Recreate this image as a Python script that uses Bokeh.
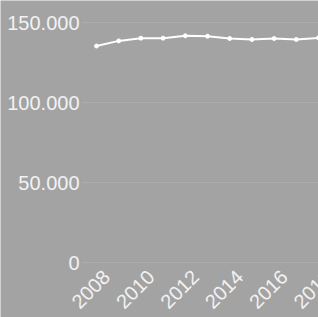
import math
from bokeh.plotting import figure
from bokeh.models import Range1d, ColumnDataSource
from bokeh.core.properties import value
from bokeh.embed import file_html
from bokeh.resources import INLINE

years = [2008, 2009, 2010, 2011, 2012, 2013, 2014, 2015, 2016, 2017, 2018]
values = [135300, 138500, 140200, 140200, 141700, 141400, 140000, 139400, 140000, 139400, 140400]
y_ticks = [0, 50000, 100000, 150000]
y_tick_labels = ["0", "50.000", "100.000", "150.000"]
x_ticks = [2008, 2010, 2012, 2014, 2016, 2018]
x_tick_labels = ["2008", "2010", "2012", "2014", "2016", "2018"]

BG = "#a3a3a3"
TXT = "#f2f2f2"
GRID = "#adadad"
FONT = "Liberation Sans"

# page geometry (pixels)
W, H = 318, 317
Y_TOP_PX, Y_ZERO_PX = 22, 262      # where 150000 and 0 sit
X_FIRST_PX, X_LAST_PX = 96, 318    # where 2008 and 2018 sit
GRID_LEFT_PX = 82

Y_MAX = y_ticks[-1]
ppv = (Y_ZERO_PX - Y_TOP_PX) / Y_MAX
y_end = Y_MAX + Y_TOP_PX / ppv
y_start = -(H - Y_ZERO_PX) / ppv
ppy = (X_LAST_PX - X_FIRST_PX) / (years[-1] - years[0])
x_start = years[0] - X_FIRST_PX / ppy
x_end = years[0] + (W - X_FIRST_PX) / ppy
grid_x0 = years[0] - (X_FIRST_PX - GRID_LEFT_PX) / ppy

p = figure(width=W, height=H, output_backend="svg", toolbar_location=None,
           x_range=Range1d(x_start, x_end), y_range=Range1d(y_start, y_end),
           background_fill_color=BG, border_fill_color=BG, outline_line_color=None,
           min_border=0)
p.axis.visible = False
p.grid.grid_line_color = None

# gridlines
p.segment(x0=[grid_x0] * len(y_ticks), x1=[x_end] * len(y_ticks), y0=y_ticks, y1=y_ticks,
          line_color=GRID, line_width=1)

src = ColumnDataSource(dict(x=years, y=values))
p.line("x", "y", source=src, line_color="white", line_width=2)
p.scatter("x", "y", source=src, size=4, fill_color="white", line_color="white")

# y tick labels
ysrc = ColumnDataSource(dict(x=[years[0]] * len(y_ticks), y=y_ticks, t=y_tick_labels))
p.text(x="x", y="y", text="t", source=ysrc, x_offset=-(X_FIRST_PX - 79),
       text_align="right", text_baseline="middle",
       text_color=TXT, text_font=value(FONT), text_font_size="20px")

# x tick labels
xsrc = ColumnDataSource(dict(x=x_ticks, y=[0] * len(x_ticks), t=x_tick_labels))
p.text(x="x", y="y", text="t", source=xsrc, angle=math.pi / 4,
       x_offset=10, y_offset=11, text_align="right", text_baseline="middle",
       text_color=TXT, text_font=value(FONT), text_font_size="20px")

html = file_html(p, INLINE)
html = html.replace("<body>", '<body style="background:%s">' % BG, 1)
open("out.html", "w").write(html)
